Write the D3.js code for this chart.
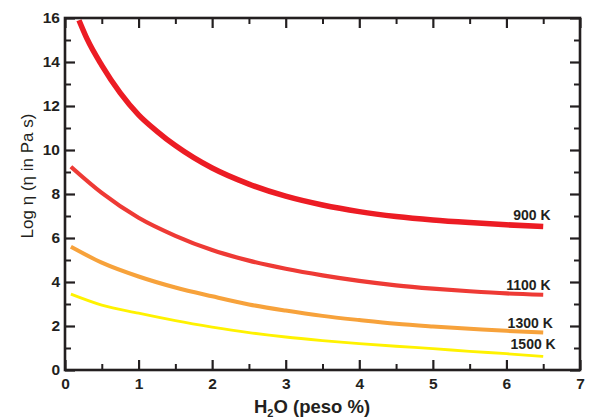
<!DOCTYPE html>
<html><head><meta charset="utf-8">
<script src="https://cdn.jsdelivr.net/npm/d3@7"></script>
<style>body{margin:0;background:#fff}svg{display:block}text{font-family:"Liberation Sans",Arial,sans-serif;fill:#231f20}</style>
</head><body><svg id="c" width="589" height="419"></svg>
<script>
const series = ["900 K","1100 K","1300 K","1500 K"];
const colors = ["#ec1c24","#ee3a35","#f7a23b","#fff200"];
const widths = [5.5,4.2,4,2.8];
const x900 = [0.19,0.3,0.5,0.75,1.0,1.25,1.5,1.75,2.0,2.5,3.0,3.5,4.0,4.5,5.0,5.5,6.0,6.5];
const y900 = [15.9,15.05,13.85,12.6,11.6,10.85,10.2,9.65,9.18,8.45,7.9,7.5,7.2,6.98,6.82,6.7,6.6,6.52];
const xLow = [0.08,0.5,1.0,1.5,2.0,2.5,3.0,3.5,4.0,4.5,5.0,5.5,6.0,6.5];
const y1100 = [9.24,8.05,6.92,6.1,5.45,4.97,4.6,4.3,4.05,3.85,3.7,3.58,3.48,3.42];
const y1300 = [5.6,4.88,4.25,3.75,3.35,2.98,2.7,2.46,2.27,2.1,1.98,1.88,1.78,1.7];
const y1500 = [3.45,2.95,2.58,2.24,1.95,1.7,1.5,1.34,1.2,1.08,0.97,0.85,0.74,0.62];
const xTicks = [0,1,2,3,4,5,6,7];
const yTicks = [0,2,4,6,8,10,12,14,16];
const labelX = [6.6,6.6,6.63,6.67];
const labelY = [6.8,3.65,1.9,0.97];

const svg = d3.select("#c");
const L=65,R=580,T=18,B=370;
const x = d3.scaleLinear().domain([0,7]).range([L,R]);
const y = d3.scaleLinear().domain([0,16]).range([B,T]);

const data = [
  x900.map((v,i)=>[v,y900[i]]),
  xLow.map((v,i)=>[v,y1100[i]]),
  xLow.map((v,i)=>[v,y1300[i]]),
  xLow.map((v,i)=>[v,y1500[i]])
];
const line = d3.line().x(d=>x(d[0])).y(d=>y(d[1])).curve(d3.curveMonotoneX);
data.forEach((d,i)=>{
  svg.append("path").attr("d",line(d)).attr("fill","none")
    .attr("stroke",colors[i]).attr("stroke-width",widths[i]).attr("stroke-linecap","butt");
});

const ink="#231f20";
function axis(gen, tr, ticks, minor, size, fmt){
  const g = svg.append("g").attr("transform",tr);
  g.call(gen.tickValues(ticks).tickSize(size).tickPadding(5).tickFormat(fmt));
  g.select(".domain").remove();
  g.selectAll(".tick line").attr("stroke",ink).attr("stroke-width",2.2);
  g.selectAll(".tick text").attr("font-size","15.5px").attr("font-weight","bold").attr("fill",ink);
  const gm = svg.append("g").attr("transform",tr);
  gm.call(gen.tickValues(minor).tickSize(size*0.6).tickFormat(""));
  gm.select(".domain").remove();
  gm.selectAll(".tick line").attr("stroke",ink).attr("stroke-width",2);
  return g;
}
const xMinor = d3.range(0.5,7,1);
const yMinor = d3.range(1,16,2);
const gb = axis(d3.axisBottom(x), `translate(0,${B})`, xTicks, xMinor, -10, d3.format("d"));
gb.selectAll(".tick text").attr("y",8).attr("dy","0.71em");
axis(d3.axisTop(x), `translate(0,${T})`, xTicks, xMinor, -10, "");
const gl = axis(d3.axisLeft(y), `translate(${L},0)`, yTicks, yMinor, -10, d3.format("d"));
gl.selectAll(".tick text").attr("x",-5);
axis(d3.axisRight(y), `translate(${R},0)`, yTicks, yMinor, -10, "");

svg.append("rect").attr("x",L).attr("y",T).attr("width",R-L).attr("height",B-T)
  .attr("fill","none").attr("stroke",ink).attr("stroke-width",2.6);

series.forEach((s,i)=>{
  svg.append("text").attr("x",x(labelX[i])).attr("y",y(labelY[i]))
    .attr("text-anchor","end").attr("font-size","14px").attr("font-weight","bold").text(s);
});

const xt = svg.append("text").attr("x",312).attr("y",413).attr("text-anchor","middle")
  .attr("font-size","18.5px").attr("font-weight","bold");
xt.append("tspan").text("H");
xt.append("tspan").attr("font-size","11px").attr("dy","4").text("2");
xt.append("tspan").attr("dy","-4").text("O (peso %)");

svg.append("text").attr("transform","translate(33,176) rotate(-90)").attr("text-anchor","middle")
  .attr("font-size","17px").text("Log η (η in Pa s)");
</script>
</body></html>
